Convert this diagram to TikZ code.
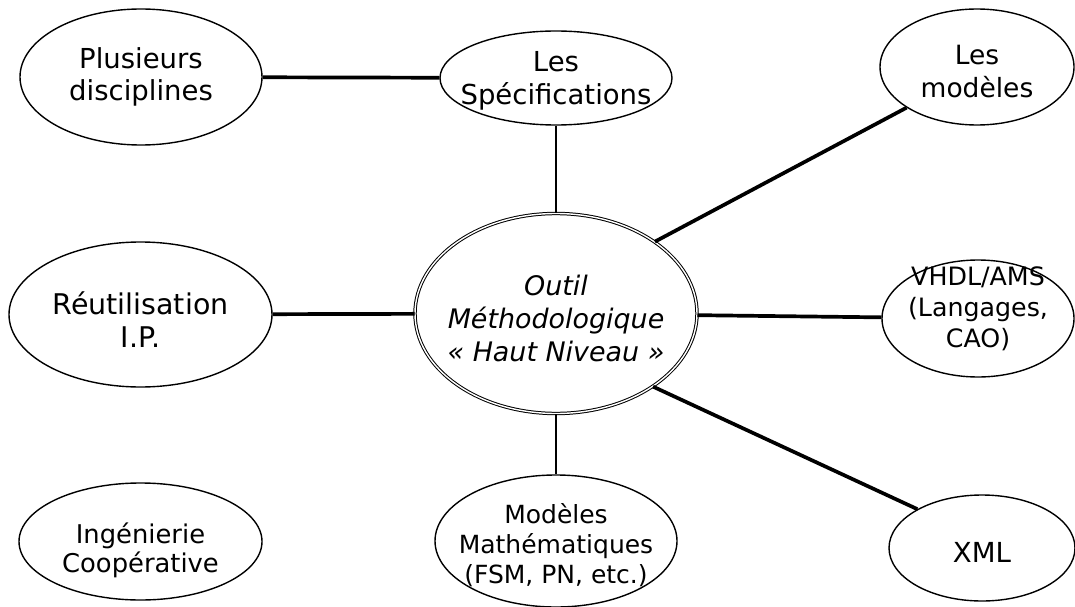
\documentclass[tikz,border=0pt]{standalone}
\usepackage{fontspec}
\setmainfont{DejaVu Sans}
\usetikzlibrary{shapes.geometric}
\tikzset{
  ell/.style={ellipse, draw, line width=1.4pt, inner sep=0pt},
  cenell/.style={ellipse, draw, double, double distance=1.4pt, line width=1pt, inner sep=0pt},
  txt/.style={align=center, inner sep=0pt},
  thick link/.style={line width=3.7pt},
  thin link/.style={line width=1.8pt},
}
\newcommand{\fs}[2]{\fontsize{#1}{#2}\selectfont}
\begin{document}
\begin{tikzpicture}[x=1pt, y=-1pt]
\useasboundingbox (0,0) rectangle (1075,607);
% ellipses
\node[ell, minimum width=242pt, minimum height=136pt] (plus) at (141,77) {};
\node[ell, minimum width=232pt, minimum height=94pt] (spec) at (556,78) {};
\node[ell, minimum width=194pt, minimum height=116pt] (mod) at (977,67) {};
\node[cenell, minimum width=282pt, minimum height=200pt] (cen) at (556,313.5) {};
\node[ell, minimum width=263pt, minimum height=145pt] (reu) at (140.5,314.5) {};
\node[ell, minimum width=192pt, minimum height=117pt] (vhdl) at (978,318.5) {};
\node[ell, minimum width=243pt, minimum height=117pt] (ing) at (140.5,541.5) {};
\node[ell, minimum width=242pt, minimum height=132pt] (math) at (556,541) {};
\node[ell, minimum width=186pt, minimum height=106pt] (xml) at (982,548) {};
% texts
\node[txt, font=\fs{27.5}{32}] (plus-t) at (141,77) {Plusieurs\\disciplines};
\node[txt, font=\fs{27.5}{33}] (spec-t) at (556,81) {Les\\Spécifications};
\node[txt, font=\fs{26.5}{33}] (mod-t) at (977,71.5) {Les\\modèles};
\node[txt, font=\fs{26.9}{33}\itshape] (cen-t) at (556,318) {Outil\\Méthodologique\\« Haut Niveau »};
\node[txt, font=\fs{28.5}{33}] (reu-t) at (140.5,319.5) {Réutilisation\\I.P.};
\node[txt, font=\fs{25.3}{31}] (vhdl-t) at (978,309) {VHDL/AMS\\(Langages,\\CAO)};
\node[txt, font=\fs{25.8}{29}] (ing-t) at (140.5,550) {Ingénierie\\Coopérative};
\node[txt, font=\fs{25}{30}] (math-t) at (556,545) {Modèles\\Mathématiques\\(FSM, PN, etc.)};
\node[txt, font=\fs{27.6}{33}] (xml-t) at (982,552.5) {XML};
% connectors
\draw[thick link] (plus) -- (spec);
\draw[thin link] (spec) -- (cen);
\draw[thick link] (cen.36.4) -- (mod.210.8);
\draw[thick link] (reu) -- (cen);
\draw[thick link] (cen) -- (vhdl);
\draw[thick link] (cen.-37.1) -- (xml.149.7);
\draw[thin link] (cen) -- (math);
\end{tikzpicture}
\end{document}
